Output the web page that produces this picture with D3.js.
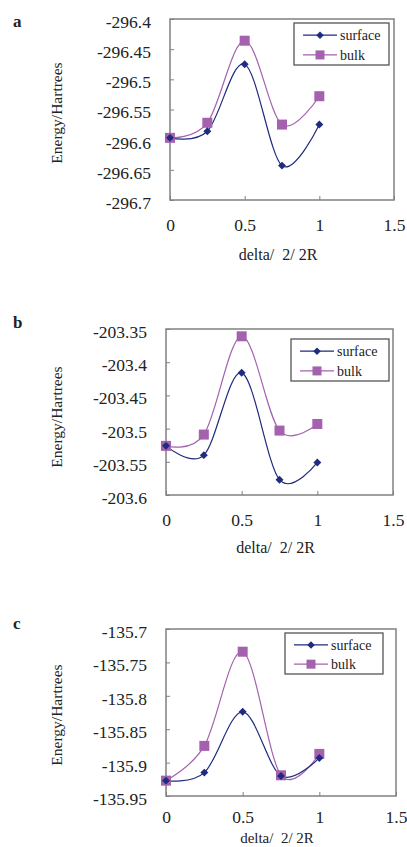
<!DOCTYPE html>
<html>
<head>
<meta charset="utf-8">
<script src="https://cdn.jsdelivr.net/npm/d3@7"></script>
<style>
body { margin: 0; background: #fff; }
</style>
</head>
<body>
<svg width="407" height="847"></svg>
<script>
// data
const xVals = [0, 0.25, 0.5, 0.75, 1];
const xTicks = [0, 0.5, 1, 1.5];

const aSurface = [-296.597, -296.586, -296.475, -296.643, -296.575];
const aBulk    = [-296.597, -296.572, -296.436, -296.575, -296.528];
const aTicks   = [-296.4, -296.45, -296.5, -296.55, -296.6, -296.65, -296.7];

const bSurface = [-203.526, -203.540, -203.416, -203.577, -203.551];
const bBulk    = [-203.526, -203.509, -203.361, -203.503, -203.493];
const bTicks   = [-203.35, -203.4, -203.45, -203.5, -203.55, -203.6];

const cSurface = [-135.927, -135.915, -135.824, -135.920, -135.893];
const cBulk    = [-135.927, -135.875, -135.734, -135.919, -135.887];
const cTicks   = [-135.7, -135.75, -135.8, -135.85, -135.9, -135.95];

const seriesNames = ["surface", "bulk"];
const xTitle = "delta/\u00a0\u00a02/ 2R";
const yTitle = "Energy/Hartrees";

const font = "'Liberation Serif', 'Times New Roman', serif";
const surfColor = "#1f2b7e";
const bulkColor = "#a461ae";

const svg = d3.select("svg").style("font-family", font);

const panels = [
  {label: "a", s: aSurface, b: aBulk, ticks: aTicks, l: 170, r: 394, t: 19, bt: 200,
   lx: 294, ly: 23, lw: 95, lh: 42, labY: 27, yTitleY: 113, xTitleY: 260, pad: 19, tf: "16px"},
  {label: "b", s: bSurface, b: bBulk, ticks: bTicks, l: 166, r: 393, t: 329, bt: 495,
   lx: 291, ly: 339, lw: 98, lh: 42, labY: 328, yTitleY: 417, xTitleY: 553, pad: 19, tf: "16px"},
  {label: "c", s: cSurface, b: cBulk, ticks: cTicks, l: 166, r: 396, t: 629, bt: 796,
   lx: 285, ly: 633, lw: 98, lh: 41, labY: 629, yTitleY: 715, xTitleY: 843, pad: 15, tf: "15px"}
];

panels.forEach(p => {
  const x = d3.scaleLinear().domain([0, 1.5]).range([p.l, p.r]);
  const y = d3.scaleLinear().domain(d3.extent(p.ticks)).range([p.bt, p.t]);
  const g = svg.append("g");

  g.append("text").attr("x", 13).attr("y", p.labY).attr("fill", "#222")
    .style("font-size", "17px").style("font-weight", "bold").text(p.label);

  g.append("rect").attr("x", p.l).attr("y", p.t)
    .attr("width", p.r - p.l).attr("height", p.bt - p.t)
    .attr("fill", "none").attr("stroke", "#808080").attr("stroke-width", 1.5);

  const ya = g.append("g").attr("transform", "translate(" + p.l + ",0)")
    .call(d3.axisLeft(y).tickValues(p.ticks).tickSize(-4).tickPadding(19).tickFormat(d => String(d)));
  ya.attr("font-family", null);
  ya.select(".domain").remove();
  ya.selectAll("line").attr("stroke", "#808080");
  ya.selectAll("text").attr("dy", "0.48em").attr("fill", "#222")
    .style("font-family", font).style("font-size", "17.5px");

  const xa = g.append("g").attr("transform", "translate(0," + p.bt + ")")
    .call(d3.axisBottom(x).tickValues(xTicks).tickSize(-4).tickPadding(p.pad).tickFormat(d => String(d)));
  xa.attr("font-family", null);
  xa.select(".domain").remove();
  xa.selectAll("line").attr("stroke", "#808080");
  xa.selectAll("text").attr("fill", "#222")
    .style("font-family", font).style("font-size", "17.5px");

  g.append("text").attr("x", (p.l + p.r) / 2 - 4).attr("y", p.xTitleY).attr("fill", "#222")
    .attr("text-anchor", "middle").style("font-size", p.tf).text(xTitle);

  g.append("text").attr("transform", "translate(62," + p.yTitleY + ") rotate(-90)").attr("fill", "#222")
    .attr("text-anchor", "middle").style("font-size", "15.5px").text(yTitle);

  const line = d3.line().x((d, i) => x(xVals[i])).y(d => y(d)).curve(d3.curveCardinal.tension(0));

  g.append("path").datum(p.b).attr("d", line)
    .attr("fill", "none").attr("stroke", bulkColor).attr("stroke-width", 1.2);
  g.append("path").datum(p.s).attr("d", line)
    .attr("fill", "none").attr("stroke", surfColor).attr("stroke-width", 1.2);

  g.selectAll(".sq").data(p.b).enter().append("rect")
    .attr("x", (d, i) => x(xVals[i]) - 5).attr("y", d => y(d) - 5)
    .attr("width", 10).attr("height", 10).attr("fill", bulkColor);
  g.selectAll(".dm").data(p.s).enter().append("path")
    .attr("d", d3.symbol(d3.symbolDiamond2, 40))
    .attr("transform", (d, i) => "translate(" + x(xVals[i]) + "," + y(d) + ")")
    .attr("fill", surfColor);

  // legend
  const lg = g.append("g").attr("transform", "translate(" + p.lx + "," + p.ly + ")");
  lg.append("rect").attr("width", p.lw).attr("height", p.lh)
    .attr("fill", "#fff").attr("stroke", "#555").attr("stroke-width", 1.3);
  seriesNames.forEach((name, k) => {
    const yy = k === 0 ? p.lh * 0.29 : p.lh * 0.76;
    const col = k === 0 ? surfColor : bulkColor;
    lg.append("line").attr("x1", 9).attr("x2", 43).attr("y1", yy).attr("y2", yy)
      .attr("stroke", col).attr("stroke-width", 1.2);
    if (k === 0) {
      lg.append("path").attr("d", d3.symbol(d3.symbolDiamond2, 36))
        .attr("transform", "translate(26," + yy + ")").attr("fill", col);
    } else {
      lg.append("rect").attr("x", 21.5).attr("y", yy - 4.5).attr("width", 9).attr("height", 9).attr("fill", col);
    }
    lg.append("text").attr("x", 46).attr("y", yy).attr("dy", "0.35em").attr("fill", "#222")
      .style("font-size", "14px").text(name);
  });
});
</script>
</body>
</html>
